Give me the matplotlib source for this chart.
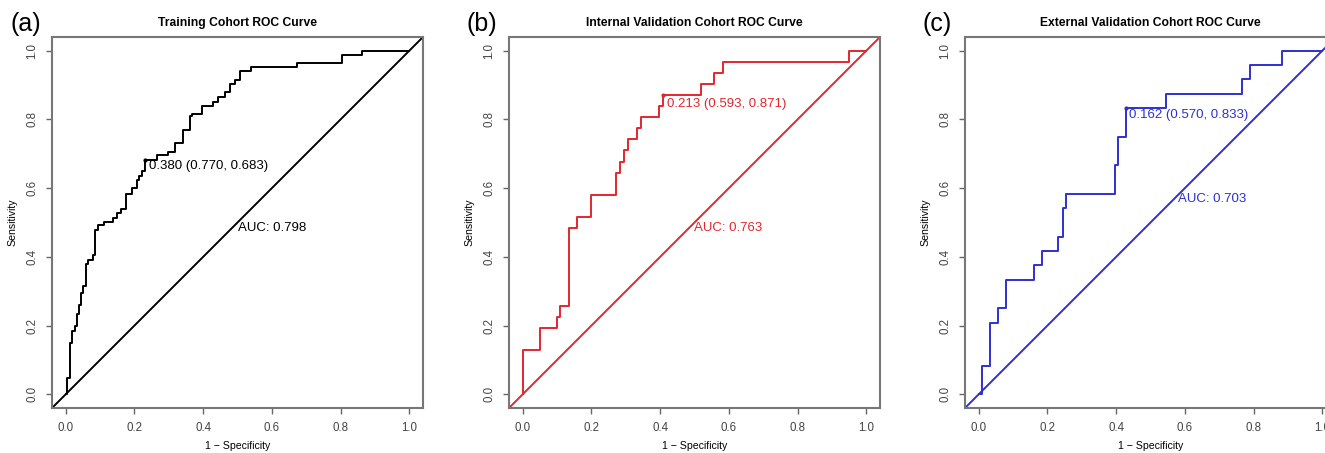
import matplotlib
matplotlib.use("Agg")
import matplotlib.pyplot as plt

plt.rcParams['font.family'] = ['Liberation Sans', 'DejaVu Sans']

# ROC step points (1 - specificity, sensitivity)
train_fpr = [0, 0.003, 0.011, 0.017, 0.027, 0.032, 0.040, 0.045, 0.051, 0.058,
             0.066, 0.080, 0.085, 0.095, 0.110, 0.139, 0.149, 0.161, 0.176,
             0.192, 0.207, 0.213, 0.221, 0.230, 0.265, 0.299, 0.318, 0.340,
             0.362, 0.367, 0.398, 0.430, 0.442, 0.464, 0.477, 0.493, 0.508,
             0.539, 0.673, 0.804, 0.863, 1.0]
train_tpr = [0, 0.048, 0.150, 0.183, 0.198, 0.235, 0.261, 0.295, 0.314, 0.380,
             0.391, 0.406, 0.478, 0.493, 0.502, 0.512, 0.527, 0.538, 0.584,
             0.599, 0.623, 0.635, 0.650, 0.683, 0.696, 0.705, 0.732, 0.768,
             0.809, 0.816, 0.838, 0.850, 0.865, 0.879, 0.903, 0.916, 0.940,
             0.952, 0.963, 0.988, 1.0, 1.0]

int_fpr = [0, 0, 0.050, 0.099, 0.109, 0.135, 0.159, 0.198, 0.271, 0.283, 0.295,
           0.307, 0.333, 0.344, 0.396, 0.407, 0.519, 0.556, 0.582, 0.950, 1.0]
int_tpr = [0, 0.129, 0.194, 0.226, 0.258, 0.484, 0.516, 0.581, 0.645, 0.677,
           0.710, 0.742, 0.774, 0.806, 0.839, 0.871, 0.903, 0.935, 0.968, 1.0, 1.0]

ext_fpr = [0, 0.010, 0.034, 0.056, 0.079, 0.162, 0.185, 0.232, 0.245, 0.255,
           0.396, 0.406, 0.430, 0.545, 0.767, 0.789, 0.883, 1.0]
ext_tpr = [0, 0.083, 0.208, 0.250, 0.333, 0.375, 0.417, 0.458, 0.542, 0.583,
           0.667, 0.750, 0.833, 0.875, 0.917, 0.958, 1.0, 1.0]

titles = ["Training Cohort ROC Curve", "Internal Validation Cohort ROC Curve",
          "External Validation Cohort ROC Curve"]
tags = ["(a)", "(b)", "(c)"]
colors = ["black", "#e2262e", "#2f2fd2"]
best_pt = [(0.230, 0.683), (0.407, 0.871), (0.430, 0.833)]
best_txt = ["0.380 (0.770, 0.683)", "0.213 (0.593, 0.871)", "0.162 (0.570, 0.833)"]
best_txt_pos = [(0.243, 0.665), (0.420, 0.845), (0.438, 0.812)]
auc_txt = ["AUC: 0.798", "AUC: 0.763", "AUC: 0.703"]
auc_pos = [(0.50, 0.483), (0.50, 0.483), (0.58, 0.568)]

curves = [(train_fpr, train_tpr), (int_fpr, int_tpr), (ext_fpr, ext_tpr)]

fig = plt.figure(figsize=(13.25, 4.53), dpi=100)
W, H = 1325, 453
lefts = [52, 509, 965]

for i in range(3):
    ax = fig.add_axes([lefts[i] / W, 45 / H, 371 / W, 371 / H])
    c = colors[i]
    fpr, tpr = curves[i]
    ax.plot(fpr, tpr, drawstyle='steps-post', color=c, lw=1.4)
    ax.axline((0, 0), slope=1, color=c, lw=1.4)
    ax.plot(*best_pt[i], 'o', color=c, ms=2)
    ax.text(best_txt_pos[i][0], best_txt_pos[i][1], best_txt[i], color=c,
            fontsize=9.5, ha='left', va='center')
    ax.text(auc_pos[i][0], auc_pos[i][1], auc_txt[i], color=c,
            fontsize=9.5, ha='left', va='center')

    ax.set_xlim(-0.04, 1.04)
    ax.set_ylim(-0.04, 1.04)
    ax.set_xticks([0, 0.2, 0.4, 0.6, 0.8, 1.0])
    ax.set_yticks([0, 0.2, 0.4, 0.6, 0.8, 1.0])
    ax.set_xticklabels(["0.0", "0.2", "0.4", "0.6", "0.8", "1.0"])
    ax.set_yticklabels(["0.0", "0.2", "0.4", "0.6", "0.8", "1.0"],
                       rotation=90, va='center')
    ax.tick_params(length=4, width=1, color='#666666', labelsize=8.3,
                   labelcolor='#444444', pad=6)
    for s in ax.spines.values():
        s.set_color('#777777')
        s.set_linewidth(1.5)
    ax.set_xlabel("1 \u2212 Specificity", fontsize=7.6, labelpad=5)
    ax.set_ylabel("Sensitivity", fontsize=7.6, labelpad=6)
    ax.set_title(titles[i], fontsize=8.7, fontweight='bold', pad=8)
    fig.text((lefts[i] - 42) / W, 1 - 24 / H, tags[i], fontsize=18,
             ha='left', va='center')

fig.savefig("out.png", dpi=100)
